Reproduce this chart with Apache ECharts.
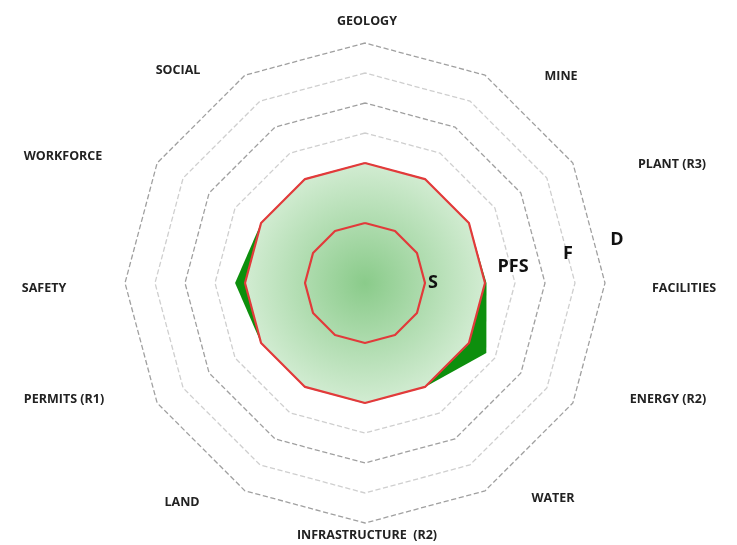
<!DOCTYPE html>
<html>
<head>
<meta charset="utf-8">
<script src="https://cdn.jsdelivr.net/npm/echarts@6/dist/echarts.min.js"></script>
<style>html,body{margin:0;padding:0;background:#fff}#c{width:737px;height:545px}</style>
</head>
<body>
<div id="c"></div>
<script>
// Data (clockwise from top)
var categories = ['GEOLOGY','MINE','PLANT (R3)','FACILITIES','ENERGY (R2)','WATER','INFRASTRUCTURE  (R2)','LAND','PERMITS (R1)','SAFETY','WORKFORCE','SOCIAL'];
var actualValues = [4, 4, 4, 4.05, 4.67, 4, 4, 4, 4, 4.33, 4, 4];
var pfsValues = [4, 4, 4, 4, 4, 4, 4, 4, 4, 4, 4, 4];
var sValues = [2, 2, 2, 2, 2, 2, 2, 2, 2, 2, 2, 2];
var stageLabels = ['S', 'PFS', 'F', 'D'];
var maxValue = 8;

// Layout (label placement, not data)
var catLabelPos = [[367,21],[561,76],[672,164],[684,288],[668,399],[553,498],[367,535],[182,502],[64,399],[44,288],[63,156],[178,70]];
var stageLabelPos = [[433,283],[513,267],[568,254],[617,240]];

// ECharts radar goes counter-clockwise: reorder so the chart reads clockwise
function cw(arr){ return [arr[0]].concat(arr.slice(1).reverse()); }

var chart = echarts.init(document.getElementById('c'));
var graphics = [];
categories.forEach(function(n, i){
  graphics.push({type:'text', x:catLabelPos[i][0], y:catLabelPos[i][1], style:{text:n, fill:'#222', font:'bold 12.5px "Open Sans"', textAlign:'center', textVerticalAlign:'middle'}});
});
stageLabels.forEach(function(n, i){
  graphics.push({type:'text', x:stageLabelPos[i][0], y:stageLabelPos[i][1], z:100, style:{text:n, fill:'#111', font:'bold 18px "Open Sans"', textAlign:'center', textVerticalAlign:'middle'}});
});

chart.setOption({
  animation:false,
  radar:{
    center:[365,283],
    radius:240,
    startAngle:90,
    splitNumber:8,
    shape:'polygon',
    indicator: cw(categories).map(function(n){ return {name:n, max:maxValue, min:0}; }),
    axisName:{show:false},
    axisLine:{show:false},
    axisTick:{show:false},
    axisLabel:{show:false},
    splitArea:{show:false},
    splitLine:{lineStyle:{color:['#a0a0a0','#cfcfcf'], type:'dashed', width:1.3}}
  },
  graphic: graphics,
  series:[
    {type:'radar', symbol:'none', z:2,
     data:[{value:cw(actualValues), lineStyle:{width:0, color:'#109010'}, areaStyle:{color:'#0d8f0d', opacity:1}}]},
    {type:'radar', symbol:'none', z:3,
     data:[{value:cw(pfsValues), lineStyle:{width:0, color:'#e23a3a'},
       areaStyle:{opacity:1, color:new echarts.graphic.RadialGradient(0.5,0.5,0.5,[{offset:0,color:'#8acb8a'},{offset:1,color:'#d2ecd2'}])}}]},
    {type:'radar', symbol:'none', z:4,
     data:[{value:cw(pfsValues), lineStyle:{width:2.2, color:'#e23a3a'}}]},
    {type:'radar', symbol:'none', z:4,
     data:[{value:cw(sValues), lineStyle:{width:2.2, color:'#e23a3a'}}]}
  ]
});
</script>
</body>
</html>
